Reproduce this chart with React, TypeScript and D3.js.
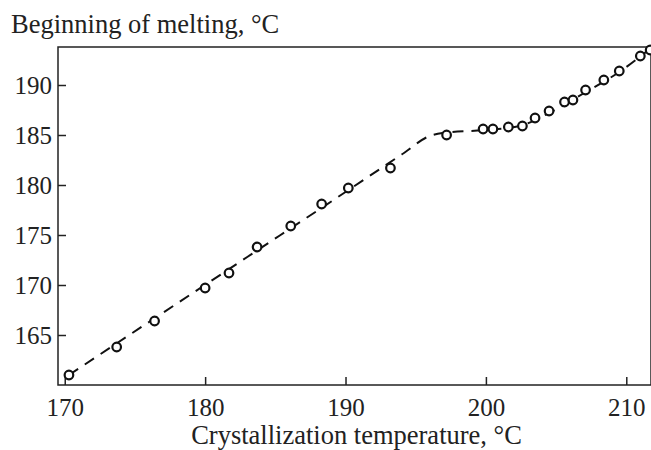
import React, { useEffect, useRef } from "react";
import * as d3 from "d3";

const width = 651;
const height = 450;

// measured points: crystallization temperature vs beginning of melting
const crystTemp = [170.3, 173.7, 176.4, 180.0, 181.7, 183.7, 186.1, 188.3, 190.2, 193.2,
    197.2, 199.8, 200.5, 201.6, 202.6, 203.5, 204.5, 205.6, 206.2, 207.1, 208.4, 209.5, 211.0, 211.7];
const meltStart = [161.0, 163.8, 166.4, 169.7, 171.2, 173.8, 175.9, 178.1, 179.7, 181.7,
    185.0, 185.6, 185.6, 185.8, 185.9, 186.7, 187.4, 188.3, 188.5, 189.5, 190.5, 191.4, 192.9, 193.5];

// dashed guide curve
const trendTemp = [170.3, 176.0, 183.0, 190.0, 194.0, 196.0, 196.9, 200.0, 202.4, 204.5, 207.0, 209.5, 212.2];
const trendMelt = [161.0, 166.3, 172.8, 179.3, 183.05, 184.9, 185.2, 185.5, 185.9, 187.2, 189.2, 191.3, 194.2];

const xTicks = [170, 180, 190, 200, 210];
const yTicks = [165, 170, 175, 180, 185, 190];

const margin = { top: 47, right: 0, bottom: 65, left: 58 };

const App = () => {
    const ref = useRef<SVGSVGElement>(null);

    useEffect(() => {
        const svg = d3.select(ref.current);
        svg.selectAll("*").remove();

        const x = d3.scaleLinear()
            .domain([169.52, 211.76])
            .range([margin.left, width - margin.right]);
        const y = d3.scaleLinear()
            .domain([160, 193.8])
            .range([height - margin.bottom, margin.top]);

        const font = "'Liberation Serif', 'Times New Roman', serif";

        const g = svg.append("g")
            .attr("font-family", font)
            .attr("fill", "#222");

        // frame
        g.append("rect")
            .attr("x", x.range()[0])
            .attr("y", y.range()[1])
            .attr("width", x.range()[1] - x.range()[0])
            .attr("height", y.range()[0] - y.range()[1])
            .attr("fill", "none")
            .attr("stroke", "#222")
            .attr("stroke-width", 1.5);

        // x axis (ticks pointing inward)
        const xAxis = g.append("g")
            .attr("transform", `translate(0,${y.range()[0]})`)
            .call(d3.axisBottom(x).tickValues(xTicks).tickSizeInner(-8).tickSizeOuter(0).tickPadding(13));
        xAxis.select(".domain").remove();
        xAxis.selectAll(".tick line").attr("stroke", "#222").attr("stroke-width", 1.5);
        xAxis.selectAll(".tick text")
            .attr("font-family", font)
            .attr("font-size", 25)
            .attr("fill", "#222");

        const yAxis = g.append("g")
            .attr("transform", `translate(${x.range()[0]},0)`)
            .call(d3.axisLeft(y).tickValues(yTicks).tickSizeInner(-8).tickSizeOuter(0).tickPadding(6));
        yAxis.select(".domain").remove();
        yAxis.selectAll(".tick line").attr("stroke", "#222").attr("stroke-width", 1.5);
        yAxis.selectAll(".tick text")
            .attr("font-family", font)
            .attr("font-size", 25)
            .attr("fill", "#222");

        // titles
        g.append("text")
            .attr("x", 11)
            .attr("y", 33)
            .attr("font-size", 26.5)
            .text("Beginning of melting, °C");

        g.append("text")
            .attr("x", (x.range()[0] + x.range()[1]) / 2 + 2)
            .attr("y", 444)
            .attr("text-anchor", "middle")
            .attr("font-size", 26.5)
            .text("Crystallization temperature, °C");

        // dashed curve
        const line = d3.line<number>()
            .x(i => x(trendTemp[i]))
            .y(i => y(trendMelt[i]))
            .curve(d3.curveMonotoneX);

        g.append("path")
            .attr("d", line(d3.range(trendTemp.length)))
            .attr("fill", "none")
            .attr("stroke", "#111")
            .attr("stroke-width", 2)
            .attr("stroke-dasharray", "11,8");

        // markers
        g.append("g")
            .selectAll("circle")
            .data(d3.range(crystTemp.length))
            .join("circle")
            .attr("cx", i => x(crystTemp[i]))
            .attr("cy", i => y(meltStart[i]))
            .attr("r", 4.3)
            .attr("fill", "white")
            .attr("stroke", "#111")
            .attr("stroke-width", 2.2);
    }, []);

    return (
        <svg ref={ref} width={width} height={height}
            style={{ position: "absolute", left: 0, top: 0, background: "white" }}>
        </svg>
    );
};

export default App;
